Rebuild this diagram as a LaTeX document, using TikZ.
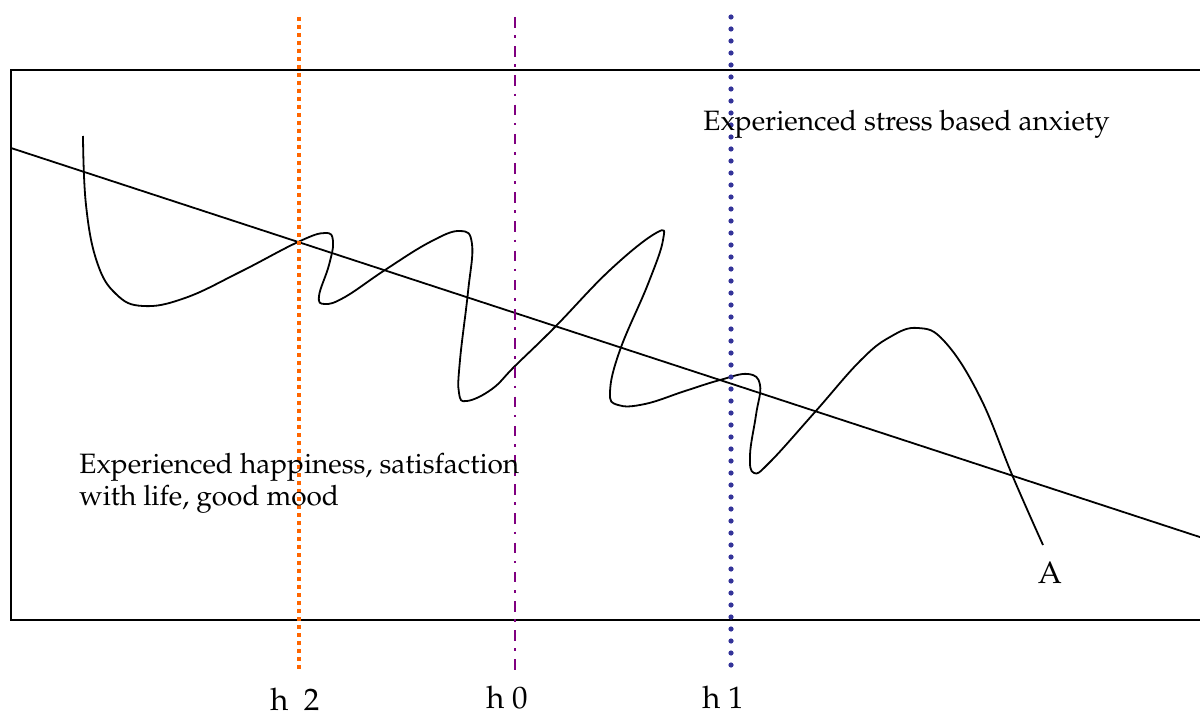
\documentclass[tikz,border=0pt]{standalone}
\usepackage[T1]{fontenc}
\usepackage{mathpazo}
\usepackage{tikz}
\definecolor{hline}{HTML}{FF6600}
\definecolor{zline}{HTML}{800080}
\definecolor{oline}{HTML}{333399}
\tikzset{frame/.style={draw=black,line width=1pt},trend/.style={draw=black,line width=0.9pt},wave/.style={draw=black,line width=0.9pt,line join=round},htwo/.style={draw=hline,line width=2pt,dash pattern=on 2pt off 2pt},hzero/.style={draw=zline,line width=1.3pt,dash pattern=on 5.3pt off 3.8pt on 1.3pt off 4.2pt},hone/.style={draw=oline,line width=2.6pt,line cap=round,dash pattern=on 0pt off 6pt},note/.style={inner sep=0pt,font=\fontsize{14}{16}\selectfont},tag/.style={inner sep=0pt,font=\fontsize{15.5}{18}\selectfont}}

\begin{document}
\begin{tikzpicture}[x=0.5pt,y=-0.5pt]
\useasboundingbox (0,0) rectangle (1200,717);
\draw[frame] (11,70) rectangle (1215,620);
\draw[trend] (11,148) -- (1215,542);
\draw[wave] plot[smooth,tension=0.7] coordinates {(83,136) (86,205) (97,262) (116,294) (143,306) (185,298) (240,272) (298,242) (325,233) (333,241) (329,265) (319,296) (325,304) (345,297) (385,270) (430,242) (460,231) (472,244) (468,292) (460,360) (459,393) (467,401) (492,389) (515,366) (555,327) (610,270) (656,233) (663,240) (648,284) (620,350) (610,392) (618,405) (645,404) (685,391) (720,380) (748,374) (760,385) (756,415) (750,455) (754,473) (770,462) (815,412) (860,361) (890,337) (918,328) (945,342) (980,397) (1013,477) (1043,545)};
\draw[htwo] (299,17) -- (299,669);
\draw[hzero] (515,17) -- (515,674);
\draw[hone] (731,17) -- (731,666);
\node[note,anchor=base west] (stress) at (703,131) {Experienced stress based anxiety};
\node[note,anchor=north west,align=left] (happy) at (79,453) {Experienced happiness, satisfaction\\with life, good mood};
\node[tag,anchor=base] (a) at (1050,583) {A};
\node[tag,anchor=base west] (h2) at (270,710) {h\ \ 2};
\node[tag,anchor=base west] (h0) at (486,708) {h 0};
\node[tag,anchor=base west] (h1) at (702,708) {h 1};
\end{tikzpicture}
\end{document}
